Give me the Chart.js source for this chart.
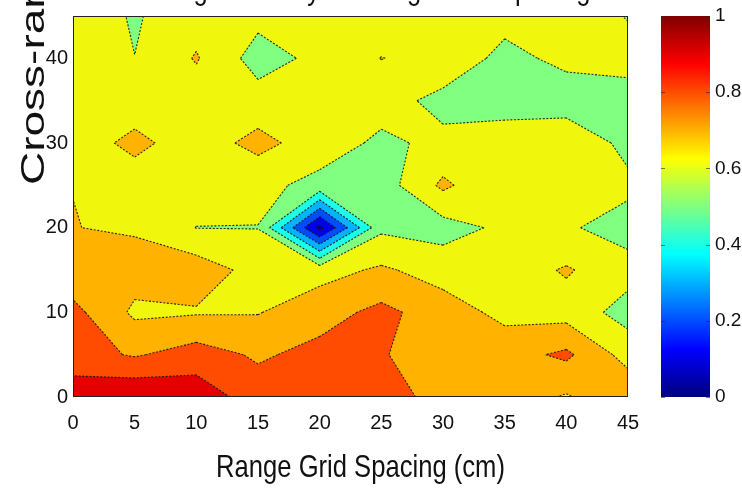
<!DOCTYPE html>
<html><head><meta charset="utf-8">
<script src="https://cdn.jsdelivr.net/npm/chart.js@4.4.1/dist/chart.umd.min.js"></script>
<style>html,body{margin:0;padding:0;background:#fff}#wrap{width:742px;height:495px;position:relative}</style>
</head><body><div id="wrap"><canvas id="c" width="742" height="495"></canvas></div>
<script>
// grid coordinates (cm)
const xValues=[0,5,10,15,20,25,30,35,40,45];
const yValues=[0,5,10,15,20,25,30,35,40,45];
// z values, one row per cross-range value
const row0 =[0.96,0.99,0.96,0.85,0.86,0.85,0.76,0.75,0.69,0.78];
const row5 =[0.84,0.79,0.845,0.786,0.83,0.81,0.73,0.76,0.82,0.66];
const row10=[0.83,0.681,0.691,0.695,0.76,0.826,0.75,0.672,0.66,0.56];
const row15=[0.73,0.744,0.755,0.663,0.663,0.715,0.657,0.65,0.71,0.637];
const row20=[0.702,0.688,0.598,0.598,0.07,0.58,0.56,0.62,0.612,0.56];
const row25=[0.699,0.65,0.66,0.628,0.57,0.55,0.72,0.61,0.64,0.622];
const row30=[0.65,0.725,0.65,0.73,0.651,0.58,0.624,0.659,0.68,0.57];
const row35=[0.65,0.65,0.65,0.643,0.65,0.641,0.57,0.55,0.545,0.56];
const row40=[0.65,0.601,0.708,0.557,0.626,0.702,0.67,0.57,0.626,0.634];
const row45=[0.66,0.59,0.66,0.629,0.65,0.65,0.65,0.635,0.65,0.595];
const levels=[0,0.1,0.2,0.3,0.4,0.5,0.6,0.7,0.8,0.9];
const xTicks=[0,5,10,15,20,25,30,35,40,45];
const yTicks=[0,10,20,30,40];
const cbTicks=[0,0.2,0.4,0.6,0.8,1];
const titleText='Tracking Accuracy vs Range Grid Spacing';
const xLabel='Range Grid Spacing (cm)';
const yLabel='Cross-range Grid Spacing (cm)';

const grid=[row0,row5,row10,row15,row20,row25,row30,row35,row40,row45];
const FONT="'Liberation Sans',Arial,sans-serif";

function jetRGB(v){
  const c=t=>Math.max(0,Math.min(1,t));
  return [c(1.5-Math.abs(4*v-3)),c(1.5-Math.abs(4*v-2)),c(1.5-Math.abs(4*v-1))].map(t=>Math.round(t*255));
}
function jet(v){const a=jetRGB(v);return 'rgb('+a[0]+','+a[1]+','+a[2]+')';}
function bandColor(L){
  if(Math.abs(L-0.6)<1e-6) return 'rgb(240,247,12)';
  return jet(L);
}
function clipPoly(poly,L){
  const out=[];const n=poly.length;
  for(let i=0;i<n;i++){
    const p=poly[i],q=poly[(i+1)%n];
    const pin=p.z>=L,qin=q.z>=L;
    if(pin) out.push(p);
    if(pin!==qin){const t=(L-p.z)/(q.z-p.z);out.push({x:p.x+t*(q.x-p.x),y:p.y+t*(q.y-p.y),z:L,cut:true});}
  }
  return out;
}
const contourPlugin={
  id:'contour',
  beforeDatasetsDraw(chart){
    const {ctx,chartArea:a}=chart;const xs=chart.scales.x, ys=chart.scales.y;
    ctx.save();ctx.beginPath();ctx.rect(a.left,a.top,a.width,a.height);ctx.clip();
    const P=(i,j)=>({x:xs.getPixelForValue(xValues[i]),y:ys.getPixelForValue(yValues[j]),z:grid[j][i]});
    const segs=[];
    levels.forEach((L,k)=>{
      ctx.beginPath();
      for(let j=0;j<yValues.length-1;j++){
        for(let i=0;i<xValues.length-1;i++){
          const poly=clipPoly([P(i,j),P(i+1,j),P(i+1,j+1),P(i,j+1)],L);
          if(poly.length<3) continue;
          ctx.moveTo(poly[0].x,poly[0].y);
          for(let m=1;m<poly.length;m++) ctx.lineTo(poly[m].x,poly[m].y);
          ctx.closePath();
          if(k>0){for(let m=0;m<poly.length;m++){const p=poly[m],q=poly[(m+1)%poly.length];if(p.cut&&q.cut) segs.push([p,q]);}}
        }
      }
      ctx.fillStyle=bandColor(L);ctx.fill();
    });
    ctx.strokeStyle='rgba(20,20,20,0.9)';ctx.lineWidth=1.1;ctx.setLineDash([2,1.6]);
    ctx.beginPath();
    segs.forEach(([p,q])=>{ctx.moveTo(p.x,p.y);ctx.lineTo(q.x,q.y);});
    ctx.stroke();
    ctx.restore();
    // axes box
    ctx.save();ctx.strokeStyle='#222';ctx.lineWidth=1;
    ctx.strokeRect(Math.round(a.left)+0.5,Math.round(a.top)+0.5,Math.round(a.width)-1,Math.round(a.height)-1);
    ctx.restore();
    // colorbar
    const cb=chart.scales.cb;
    const x0=cb.left+33, w=49;
    const yTop=cb.getPixelForValue(1), yBot=cb.getPixelForValue(0);
    const g=ctx.createLinearGradient(0,yBot,0,yTop);
    for(let s=0;s<=64;s++) g.addColorStop(s/64,jet(s/64));
    ctx.save();ctx.fillStyle=g;ctx.fillRect(x0,yTop,w,yBot-yTop);
    ctx.strokeStyle='rgba(40,40,40,0.6)';ctx.lineWidth=1;
    cbTicks.forEach(v=>{const yy=Math.round(cb.getPixelForValue(v))+0.5;ctx.beginPath();ctx.moveTo(x0+w-4,yy);ctx.lineTo(x0+w,yy);ctx.moveTo(x0,yy);ctx.lineTo(x0+4,yy);ctx.stroke();});
    ctx.restore();
  },
  afterDraw(chart){
    const ctx=chart.ctx;const a=chart.chartArea;const cx=(a.left+a.right)/2;
    ctx.save();ctx.fillStyle='#111';
    ctx.font="32px "+FONT;ctx.textAlign='center';ctx.textBaseline='alphabetic';
    ctx.save();ctx.translate(cx,-1);ctx.scale(0.8,1);ctx.fillText(titleText,0,0);ctx.restore();
    ctx.save();ctx.translate(cx+10,477);ctx.scale(0.8,1);ctx.fillText(xLabel,0,0);ctx.restore();
    ctx.restore();
    ctx.save();ctx.fillStyle='#111';
    ctx.translate(35,185);ctx.rotate(-Math.PI/2);ctx.scale(1,0.72);
    ctx.font="46px "+FONT;ctx.textAlign='left';ctx.textBaseline='middle';
    ctx.fillText(yLabel,0,0);
    ctx.restore();
  }
};
const pts=[];yValues.forEach((y,j)=>xValues.forEach((x,i)=>pts.push({x:x,y:y,z:grid[j][i]})));
const tickFont={family:FONT,size:20};
const noPad=s=>{s.paddingTop=0;s.paddingBottom=0;};
new Chart(document.getElementById('c'),{
  type:'scatter',
  data:{datasets:[{data:pts,pointRadius:0,pointHoverRadius:0,showLine:false}]},
  options:{
    responsive:false,animation:false,events:[],
    layout:{padding:{top:16,left:0,right:0,bottom:0}},
    plugins:{legend:{display:false},tooltip:{enabled:false},title:{display:false}},
    scales:{
      x:{type:'linear',min:0,max:45,afterBuildTicks:s=>{s.ticks=xTicks.map(v=>({value:v}));},
         afterFit:s=>{s.height=98;s.paddingLeft=0;s.paddingRight=0;},
         grid:{display:false,drawTicks:false},border:{display:false},ticks:{padding:14,color:'#111',font:tickFont,maxRotation:0}},
      y:{type:'linear',min:0,max:45,afterBuildTicks:s=>{s.ticks=yTicks.map(v=>({value:v}));},
         afterFit:s=>{s.width=73;noPad(s);},
         grid:{display:false,drawTicks:false},border:{display:false},ticks:{padding:5,color:'#111',font:tickFont}},
      cb:{type:'linear',position:'right',min:0,max:1,afterBuildTicks:s=>{s.ticks=cbTicks.map(v=>({value:v}));},
         afterFit:s=>{s.width=114;noPad(s);},
         grid:{display:false,drawTicks:false},border:{display:false},
         ticks:{padding:87,color:'#111',font:{family:FONT,size:19},callback:v=>String(Math.round(v*10)/10)}}
    }
  },
  plugins:[contourPlugin]
});
</script></body></html>
